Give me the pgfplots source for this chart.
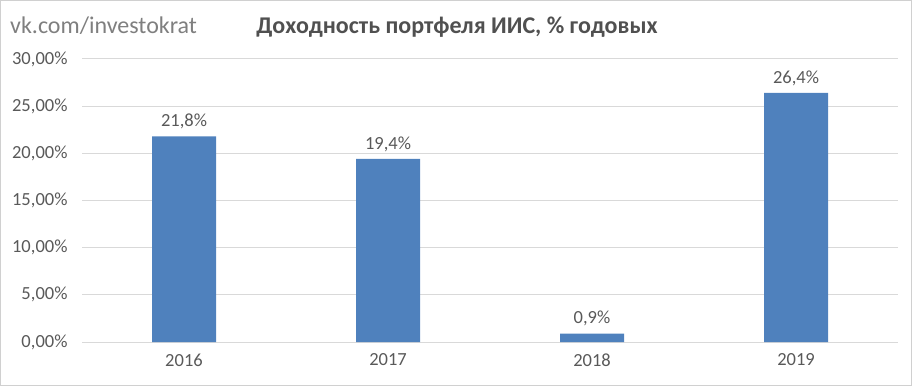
\documentclass[border=0pt]{standalone}
\usepackage{pgfplots}
\pgfplotsset{compat=1.18}
\usepackage{fontspec}
\setmainfont{Carlito}
\definecolor{barblue}{HTML}{4F81BD}
\definecolor{txt}{HTML}{595959}
\definecolor{ttl}{HTML}{505050}
\definecolor{wm}{HTML}{7F7F7F}
\definecolor{gridc}{HTML}{D9D9D9}
\definecolor{framec}{HTML}{D0D0D0}
\begin{document}
\begin{tikzpicture}[x=1pt,y=1pt]
\draw[framec, line width=1pt] (0.5,0.5) rectangle (911.5,385.5);
\node[anchor=west, text=wm, font=\fontsize{24}{28}\selectfont, inner sep=0pt] at (10,360) {vk.com/investokrat};
\node[anchor=center, text=ttl, font=\fontsize{24}{28}\selectfont\bfseries, inner sep=0pt] at (457,359) {Доходность портфеля ИИС, \% годовых};
\begin{axis}[
  at={(82pt,44pt)}, anchor=south west,
  scale only axis, width=816pt, height=283pt,
  ybar, bar width=64pt,
  xmin=-0.5, xmax=3.5, ymin=0, ymax=30,
  xtick={0,1,2,3}, xticklabels={2016,2017,2018,2019},
  ytick={0,5,10,15,20,25,30},
  yticklabels={{0,00\%},{5,00\%},{10,00\%},{15,00\%},{20,00\%},{25,00\%},{30,00\%}},
  ymajorgrids, grid style={gridc, line width=1pt},
  axis line style={draw=none},
  major tick length=0pt,
  tick label style={text=txt, font=\fontsize{18.5}{21}\selectfont},
  yticklabel style={xshift=-11pt},
  xticklabel style={yshift=-8pt},
  nodes near coords={\pgfmathprintnumber[fixed, precision=1, use comma, fixed zerofill]{\pgfplotspointmeta}\%},
  nodes near coords style={text=txt, font=\fontsize{18.5}{21}\selectfont, yshift=4pt},
  /pgf/number format/assume math mode=true,
  clip=false,
]
\addplot[fill=barblue, draw=none] coordinates {(0,21.8) (1,19.4) (2,0.9) (3,26.4)};
\end{axis}
\end{tikzpicture}
\end{document}
